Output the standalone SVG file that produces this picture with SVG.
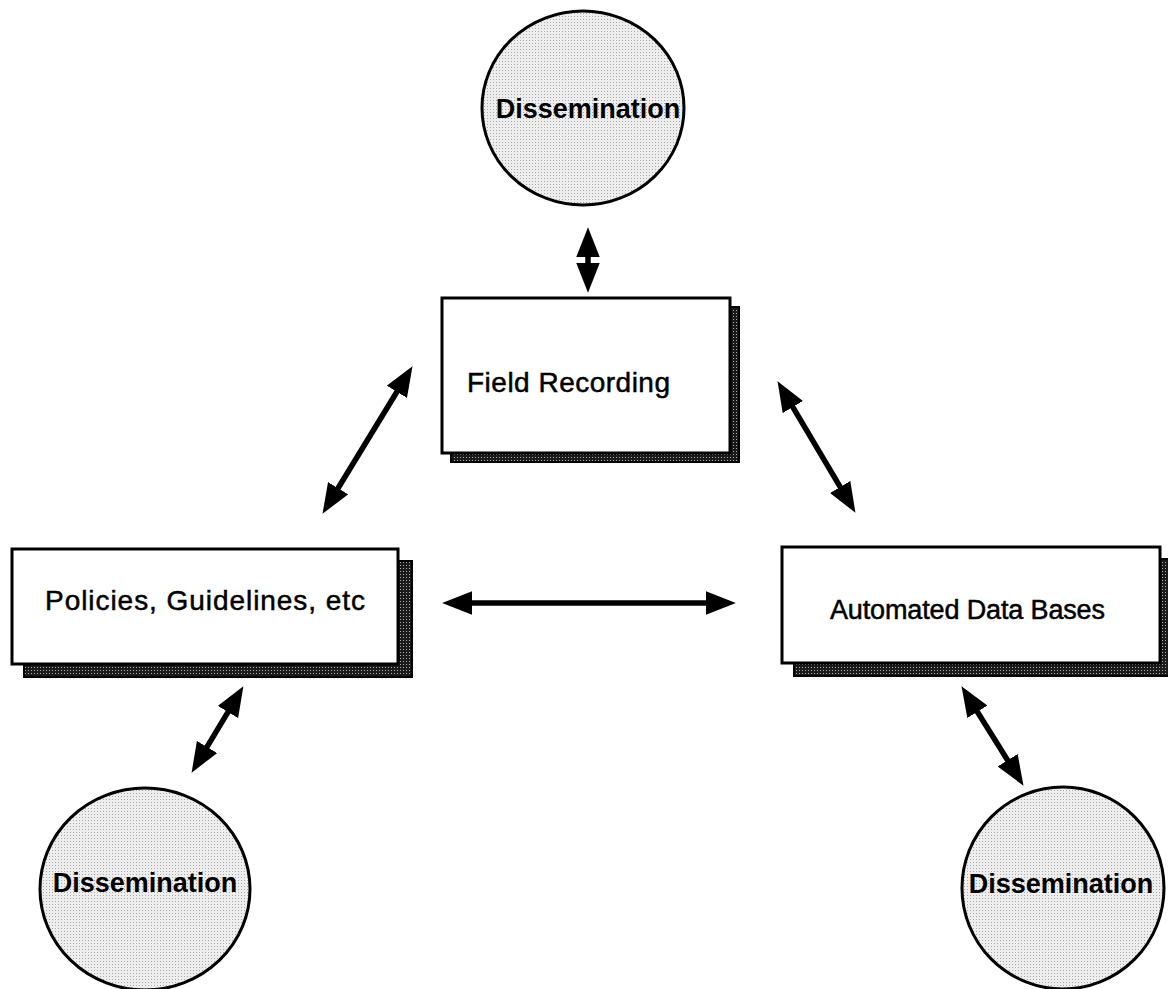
<svg xmlns="http://www.w3.org/2000/svg" width="1168" height="989" viewBox="0 0 1168 989">
  <style>
    .box { fill: #ffffff; stroke: #000000; stroke-width: 3; }
    .shadow { fill: url(#shade); stroke: #000000; stroke-width: 2; }
    .circle { fill: url(#stipple); stroke: #000000; stroke-width: 3; }
    .lbl { font-family: "Liberation Sans", Arial, sans-serif; fill: #000000; stroke: #000000; stroke-width: 0.5; }
    .circ-lbl { font-family: "Liberation Sans", Arial, sans-serif; font-weight: bold; font-size: 27px; fill: #000000; text-anchor: middle; }
    .conn { stroke: #000000; stroke-width: 5.5; fill: none; marker-start: url(#head); marker-end: url(#head); }
  </style>
  <defs>
    <pattern id="stipple" width="3" height="3" patternUnits="userSpaceOnUse">
      <rect width="3" height="3" fill="#eeeeee"/>
      <rect x="1" y="1" width="1" height="1" fill="#a8a8a8"/>
    </pattern>
    <pattern id="shade" width="3" height="3" patternUnits="userSpaceOnUse">
      <rect width="3" height="3" fill="#1a1a1a"/>
      <rect x="1" y="1" width="1" height="1" fill="#b0b0b0"/>
    </pattern>
    <marker id="head" markerUnits="userSpaceOnUse" markerWidth="30" markerHeight="24" viewBox="0 0 28 22" refX="16" refY="11" orient="auto-start-reverse">
      <path d="M0,0 L28,11 L0,22 Z" fill="#000000"/>
    </marker>
  </defs>

  <g id="connectors">
    <line class="conn" x1="588" y1="240" x2="588" y2="280"/>
    <line class="conn" x1="405.8" y1="377.2" x2="329.2" y2="502.8"/>
    <line class="conn" x1="784.1" y1="392.3" x2="848.9" y2="501.7"/>
    <line class="conn" x1="455" y1="603" x2="723" y2="603"/>
    <line class="conn" x1="236.8" y1="697.3" x2="198.2" y2="761.7"/>
    <line class="conn" x1="968.3" y1="697.2" x2="1016.7" y2="774.8"/>
  </g>

  <g id="diss-top">
    <ellipse class="circle" cx="583" cy="108" rx="101" ry="97"/>
    <text class="circ-lbl" x="588" y="118">Dissemination</text>
  </g>

  <g id="field-recording">
    <rect class="shadow" x="451" y="307" width="288" height="155"/>
    <rect class="box" x="442" y="298" width="288" height="155"/>
    <text class="lbl" x="467" y="392" font-size="28" textLength="203" lengthAdjust="spacing">Field Recording</text>
  </g>

  <g id="policies">
    <rect class="shadow" x="24" y="561" width="388" height="116"/>
    <rect class="box" x="12" y="549" width="386" height="115"/>
    <text class="lbl" x="45" y="610" font-size="28" textLength="320" lengthAdjust="spacing">Policies, Guidelines, etc</text>
  </g>

  <g id="automated">
    <rect class="shadow" x="794" y="559" width="390" height="117"/>
    <rect class="box" x="782" y="547" width="378" height="116"/>
    <text class="lbl" x="830" y="619" font-size="27" textLength="275" lengthAdjust="spacing">Automated Data Bases</text>
  </g>

  <g id="diss-left">
    <ellipse class="circle" cx="145" cy="889" rx="105" ry="101"/>
    <text class="circ-lbl" x="145" y="892">Dissemination</text>
  </g>

  <g id="diss-right">
    <ellipse class="circle" cx="1063" cy="888" rx="101" ry="101"/>
    <text class="circ-lbl" x="1061" y="893">Dissemination</text>
  </g>
</svg>
